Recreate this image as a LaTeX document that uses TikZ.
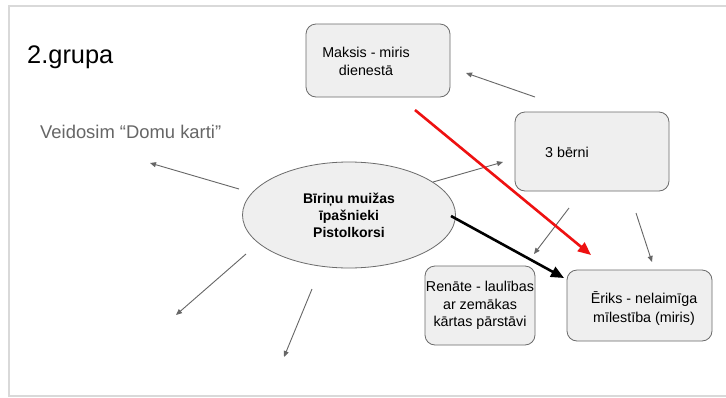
\documentclass[tikz,border=0pt]{standalone}
\usepackage{fontspec}
\setmainfont{Liberation Sans}
\usetikzlibrary{arrows.meta,shapes.geometric}
\definecolor{framec}{HTML}{D9D9D9}
\definecolor{boxfill}{HTML}{EFEFEF}
\definecolor{boxline}{HTML}{6B6B6B}
\definecolor{arrowc}{HTML}{666666}
\definecolor{subt}{HTML}{666666}
\definecolor{redc}{HTML}{EE1111}
\tikzset{
  box/.style={draw=boxline, fill=boxfill, line width=0.8pt, rounded corners=10pt, inner sep=0pt, align=center,
    font=\fontsize{14.3}{18}\selectfont},
  boxtext/.style={inner sep=0pt, align=center, font=\fontsize{14.3}{18}\selectfont},
  thin arrow/.style={draw=arrowc, line width=0.9pt, -{Triangle[length=6pt,width=5pt]}},
  thick arrow/.style={line width=2.6pt, -{Triangle[length=13pt,width=11pt]}},
}
\begin{document}
\begin{tikzpicture}[x=1pt,y=-1pt]
\useasboundingbox (0,0) rectangle (726,397);
\fill[white] (0,0) rectangle (726,397);
% slide frame
\draw[framec, line width=1.3pt] (726,6) -- (9,6) -- (9,396) -- (726,396);

% titles
\node[anchor=base west, inner sep=0pt, font=\fontsize{25.4}{30}\selectfont] (title) at (27,63) {2.grupa};
\node[anchor=base west, inner sep=0pt, text=subt, font=\fontsize{18.4}{22}\selectfont] (sub) at (40,138) {Veidosim “Domu karti”};

% boxes
\node[box, minimum width=144pt, minimum height=73pt] (maksis) at (378,60.5) {};
\node[boxtext] (maksisT) at (366,61) {Maksis - miris\\dienestā};
\node[box, minimum width=154pt, minimum height=79pt] (berni) at (592,151.5) {};
\node[boxtext] (berniT) at (567,152) {3 bērni};
\node[box, minimum width=110pt, minimum height=79pt, font=\fontsize{14.3}{17.5}\selectfont] (renate) at (480,305.5) {Renāte - laulības\\ar zemākas\\kārtas pārstāvi};
\node[box, minimum width=145pt, minimum height=71pt] (eriks) at (639.5,305.5) {};
\node[boxtext, font=\fontsize{14.3}{19}\selectfont] (eriksT) at (644,309) {Ēriks - nelaimīga\\mīlestība (miris)};

% central ellipse
\node[ellipse, draw=boxline, fill=boxfill, line width=0.8pt, minimum width=213pt, minimum height=106pt, inner sep=0pt,
  align=center, font=\bfseries\fontsize{14}{17}\selectfont] (center) at (349,215) {Bīriņu muižas\\īpašnieki\\Pistolkorsi};

% connector end points
\coordinate (a1s) at (535,97);  \coordinate (a1e) at (466,73);
\coordinate (a2s) at (433,182); \coordinate (a2e) at (503,162);
\coordinate (a3s) at (239,189); \coordinate (a3e) at (150,163);
\coordinate (a4s) at (246,254); \coordinate (a4e) at (176,315);
\coordinate (a5s) at (312,289); \coordinate (a5e) at (284,357);
\coordinate (a6s) at (569,208); \coordinate (a6e) at (534,254);
\coordinate (a7s) at (636,213); \coordinate (a7e) at (652,262);
\coordinate (rs) at (415,110);  \coordinate (re) at (591,255);
\coordinate (bs) at (451,216);  \coordinate (be) at (564,278);

\draw[thin arrow] (a1s) -- (a1e);
\draw[thin arrow] (a2s) -- (a2e);
\draw[thin arrow] (a3s) -- (a3e);
\draw[thin arrow] (a4s) -- (a4e);
\draw[thin arrow] (a5s) -- (a5e);
\draw[thin arrow] (a6s) -- (a6e);
\draw[thin arrow] (a7s) -- (a7e);
\draw[thick arrow, draw=redc, fill=redc] (rs) -- (re);
\draw[thick arrow, draw=black] (bs) -- (be);
\end{tikzpicture}
\end{document}
